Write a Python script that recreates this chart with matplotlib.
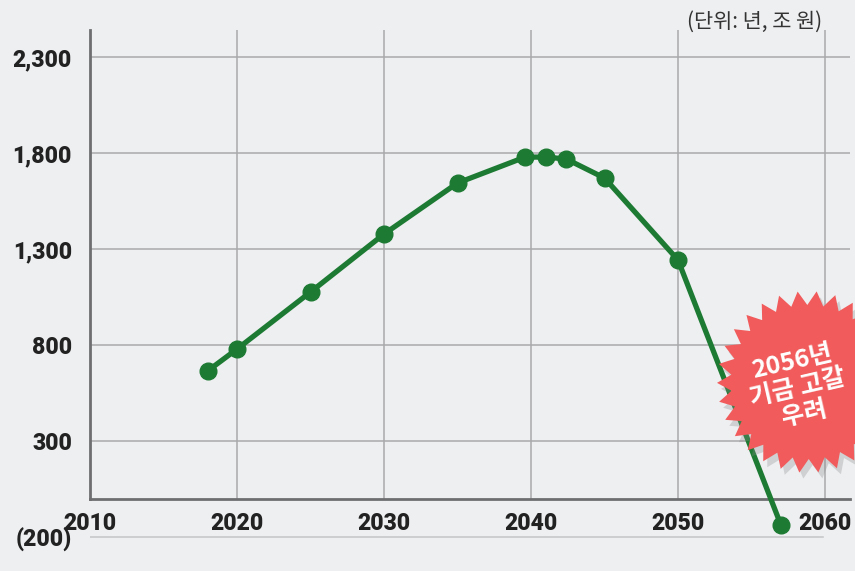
import numpy as np
import matplotlib
matplotlib.use("Agg")
import matplotlib.pyplot as plt
from matplotlib.patches import Polygon

# national pension fund projection (조 원)
years = [2018, 2020, 2025, 2030, 2035, 2039.6, 2041, 2042.4, 2045, 2050, 2057]
fund = [667, 781, 1078, 1380, 1646, 1781, 1781, 1771, 1672, 1245, -135]

xticks = [2010, 2020, 2030, 2040, 2050, 2060]
yticks = [300, 800, 1300, 1800, 2300]
ytick_labels = ['300', '800', '1,300', '1,800', '2,300']
neg_tick = -200
neg_label = '(200)'

unit_text = '(단위: 년, 조 원)'
burst_text = '2056년\n기금 고갈\n우려'

bg = '#eeeff1'
green = '#1d7a33'
grid_c = '#a9a9ab'
axis_c = '#6e6e70'
text_c = '#222222'

plt.rcParams['font.family'] = ['Roboto', 'Noto Sans CJK KR', 'DejaVu Sans']

W, H = 855, 571
fig = plt.figure(figsize=(W / 100, H / 100), dpi=100, facecolor=bg)
ax = fig.add_axes([90 / W, 0, 760 / W, 541 / H])
ax.set_facecolor(bg)

ax.set_xlim(2010, 2010 + 760 / 14.7)
ax.set_ylim(-375, 2443)

# grid: vertical lines stop at the zero line
for x in xticks[1:]:
    ax.plot([x, x], [0, 2443], color=grid_c, lw=1.1, zorder=1)
for y in yticks:
    ax.axhline(y, color=grid_c, lw=1.1, zorder=1)
ax.plot([2010, 2010 + 733 / 14.7], [neg_tick, neg_tick], color='#c4c4c6', lw=1.1, zorder=1)

for s in ['top', 'right']:
    ax.spines[s].set_visible(False)
ax.spines['bottom'].set_position(('data', 0))
ax.spines['left'].set_bounds(0, 2443)
for s in ['bottom', 'left']:
    ax.spines[s].set_color(axis_c)
    ax.spines[s].set_linewidth(2)
    ax.spines[s].set_zorder(2)

ax.set_xticks(xticks)
ax.set_xticklabels([str(x) for x in xticks])
ax.set_yticks([neg_tick] + yticks)
ax.set_yticklabels([neg_label] + ytick_labels)
ax.tick_params(axis='x', length=0, pad=9, labelsize=16.5, labelcolor=text_c)
ax.tick_params(axis='y', length=0, pad=13, labelsize=16.5, labelcolor=text_c)
for lab in ax.get_xticklabels() + ax.get_yticklabels():
    lab.set_fontweight('heavy')

ax.plot(years, fund, color=green, lw=3.8, marker='o', markersize=12,
        zorder=3, clip_on=False)

fig.text(822 / W, 1 - 22 / H, unit_text, ha='right', va='center',
         fontsize=15, color='#333333', family=['Noto Sans CJK KR', 'DejaVu Sans'])

# starburst callout
cx, cy = 808, 382
n = 30
ang = np.linspace(0, 2 * np.pi, 2 * n, endpoint=False) + 0.2
rad = np.where(np.arange(2 * n) % 2 == 0, 91, 77)
px = cx + rad * np.cos(ang)
py = cy + rad * np.sin(ang)
shadow = Polygon(np.column_stack([(px + 4) / W, 1 - (py + 6) / H]), closed=True,
                 transform=fig.transFigure, facecolor='#8a8a8a', alpha=0.3,
                 edgecolor='none', zorder=5)
burst = Polygon(np.column_stack([px / W, 1 - py / H]), closed=True,
                transform=fig.transFigure, facecolor='#f15b5b', edgecolor='none', zorder=6)
fig.add_artist(shadow)
fig.add_artist(burst)
fig.text(798 / W, 1 - 388 / H, burst_text, ha='center', va='center', rotation=13,
         fontsize=18, fontweight='bold', color='white', linespacing=1.12,
         family=['Noto Sans CJK KR', 'DejaVu Sans'], zorder=7)

fig.savefig('out.png', dpi=100, facecolor=bg)
